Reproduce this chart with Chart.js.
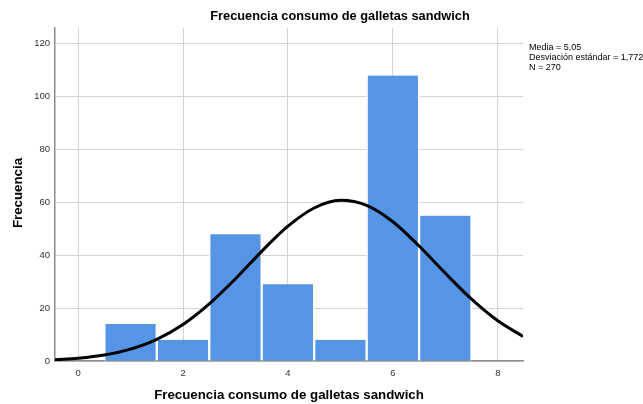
<!DOCTYPE html>
<html>
<head>
<meta charset="utf-8">
<script src="https://cdn.jsdelivr.net/npm/chart.js@4/dist/chart.umd.min.js"></script>
<style>
    html, body { margin: 0; padding: 0; background: #fff; }
    #wrap { width: 643px; height: 404px; }
</style>
</head>
<body>
<div id="wrap"><canvas id="histChart"></canvas></div>
<script>
// histogram bins (centre of each bin) and counts
const binCenters = [1, 2, 3, 4, 5, 6, 7];
const binCounts = [14, 8, 48, 29, 8, 108, 55];

// normal curve
const curveX = [-0.44, 0, 0.5, 1, 1.5, 2, 2.5, 3, 3.5, 4, 4.5, 5, 5.5, 6, 6.5, 7, 7.5, 8, 8.48];
const curveY = [0.5, 1.05, 2.25, 4.5, 8.2, 13.8, 21.6, 31.1, 41.5, 51.0, 57.9, 60.8, 58.9, 52.7, 43.5, 33.2, 23.4, 15.2, 9.3];

const xTicks = [0, 2, 4, 6, 8];
const yTicks = [0, 20, 40, 60, 80, 100, 120];

const chartTitle = 'Frecuencia consumo de galletas sandwich';
const xTitle = 'Frecuencia consumo de galletas sandwich';
const yTitle = 'Frecuencia';
const statsLines = ['Media = 5,05', 'Desviación estándar = 1,772', 'N = 270'];

const fontFamily = '"Liberation Sans", Arial, sans-serif';

// draws the title, axis titles and the stats box
const textPlugin = {
    id: 'textPlugin',
    afterDraw(chart) {
        const ctx = chart.ctx;
        ctx.save();
        ctx.fillStyle = '#000';
        ctx.textBaseline = 'middle';

        ctx.font = 'bold 12.8px ' + fontFamily;
        ctx.textAlign = 'center';
        ctx.fillText(chartTitle, 340, 16);

        ctx.font = 'bold 13.3px ' + fontFamily;
        ctx.fillText(xTitle, 289, 395);

        ctx.save();
        ctx.translate(18, 193);
        ctx.rotate(-Math.PI / 2);
        ctx.fillText(yTitle, 0, 0);
        ctx.restore();

        ctx.font = '9px ' + fontFamily;
        ctx.textAlign = 'left';
        statsLines.forEach((line, i) => {
            ctx.fillText(line, 529, 48 + i * 10);
        });
        ctx.restore();
    }
};

const ctx = document.getElementById('histChart').getContext('2d');

new Chart(ctx, {
    type: 'bar',
    data: {
        datasets: [
            {
                type: 'line',
                data: curveX.map((x, i) => ({ x: x, y: curveY[i] })),
                borderColor: '#000',
                borderWidth: 3,
                pointRadius: 0,
                cubicInterpolationMode: 'monotone',
                fill: false,
                order: 0
            },
            {
                type: 'bar',
                data: binCenters.map((x, i) => ({ x: x, y: binCounts[i] })),
                backgroundColor: '#5694e6',
                borderColor: '#ffffff',
                borderWidth: { left: 1.5, right: 1.5, top: 0, bottom: 0 },
                borderSkipped: false,
                barPercentage: 1,
                categoryPercentage: 1,
                order: 1
            }
        ]
    },
    options: {
        responsive: true,
        maintainAspectRatio: false,
        animation: false,
        layout: {
            padding: { left: 0, right: 120, top: 28, bottom: 0 }
        },
        plugins: {
            legend: { display: false },
            tooltip: { enabled: false }
        },
        scales: {
            x: {
                type: 'linear',
                min: -0.44,
                max: 8.48,
                offset: false,
                afterBuildTicks: axis => { axis.ticks = xTicks.map(v => ({ value: v })); },
                afterFit: axis => { axis.height = 43; },
                grid: { color: '#d4d4d4', lineWidth: 1, drawTicks: false, offset: false },
                border: { color: '#8c8c8c', width: 1.5 },
                ticks: {
                    color: '#333',
                    font: { family: fontFamily, size: 9.5 },
                    padding: 7,
                    maxRotation: 0
                }
            },
            y: {
                min: 0,
                max: 126,
                afterBuildTicks: axis => { axis.ticks = yTicks.map(v => ({ value: v })); },
                afterFit: axis => { axis.width = 55; },
                grid: { color: '#d4d4d4', lineWidth: 1, drawTicks: false },
                border: { color: '#8c8c8c', width: 1.5 },
                ticks: {
                    color: '#333',
                    font: { family: fontFamily, size: 9.5 },
                    padding: 5
                }
            }
        }
    },
    plugins: [textPlugin]
});
</script>
</body>
</html>
